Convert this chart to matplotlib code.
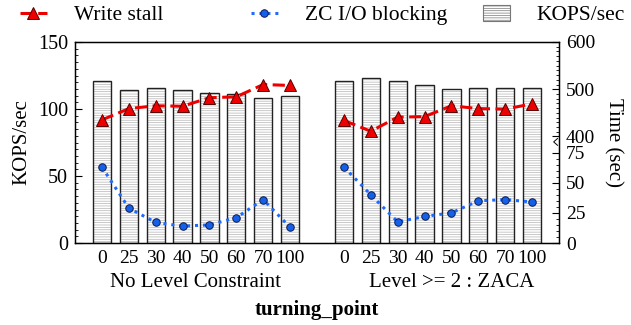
import matplotlib
matplotlib.use('Agg')
import matplotlib.pyplot as plt
import matplotlib.transforms as mtransforms
import numpy as np
from matplotlib.lines import Line2D
from matplotlib.patches import Patch
from matplotlib.ticker import FixedLocator

plt.rcParams['font.family'] = ['Liberation Serif', 'DejaVu Serif']
plt.rcParams['hatch.linewidth'] = 0.5

# data
turning_points = ['0', '25', '30', '40', '50', '60', '70', '100']
groups = ['No Level Constraint', 'Level >= 2 : ZACA']
kops_nolevel = [121, 114.5, 116, 114.5, 112, 111.5, 108, 109.5]
kops_zaca = [121, 123, 121, 118, 115, 116, 116, 115.5]
stall_nolevel = [435, 459, 465, 464, 482, 484, 510, 508]
stall_zaca = [434, 411, 441, 442, 465, 459, 458, 469]
block_nolevel = [63, 29, 17, 14, 15, 21, 36, 13]
block_zaca = [63, 40, 17.5, 22, 25, 35, 36, 34]

# broken right axis: 0-75 in the lower part, 400-600 in the upper part
brk_v = [0, 75, 400, 600]
brk_u = [0, 0.45, 0.53, 1.0]
def fwd(v):
    return np.interp(v, brk_v, brk_u)
def inv(u):
    return np.interp(u, brk_u, brk_v)

fig = plt.figure(figsize=(6.31, 3.25), dpi=100)
ax = fig.add_axes([75/631, 82/325, 484/631, 201/325])
ax2 = ax.twinx()

x1 = np.arange(len(turning_points))
x2 = x1 + len(turning_points) + 1
w = 0.68

for xs, ks in [(x1, kops_nolevel), (x2, kops_zaca)]:
    ax.bar(xs, ks, w, color='white', edgecolor='#b4b4b4', hatch='-------', linewidth=0)
    ax.bar(xs, ks, w, fill=False, edgecolor='#222222', linewidth=1.0)

red_kw = dict(color='#ee0000', linestyle=(0, (4, 1.8)), linewidth=2.2, marker='^',
              markersize=9, markerfacecolor='#ee0000', markeredgecolor='#550000', markeredgewidth=0.7)
blue_kw = dict(color='#1f6bff', linestyle=(0, (1, 1.6)), linewidth=2.2, marker='o',
               markersize=5.4, markerfacecolor='#1560e8', markeredgecolor='#0a1a50', markeredgewidth=0.7)
for xs, st, bl in [(x1, stall_nolevel, block_nolevel), (x2, stall_zaca, block_zaca)]:
    ax2.plot(xs, st, **red_kw)
    ax2.plot(xs, bl, **blue_kw)

ax2.set_yscale('function', functions=(fwd, inv))
ax2.set_ylim(0, 600)
ax2.yaxis.set_major_locator(FixedLocator([0, 25, 50, 75, 400, 500, 600]))
ax2.yaxis.set_minor_locator(FixedLocator(list(range(0, 76, 5)) + list(range(400, 601, 10))))
ax2.tick_params(axis='y', which='major', direction='in', length=5, labelsize=14, pad=5)
ax2.tick_params(axis='y', which='minor', direction='in', length=2.5)
ax2.set_ylabel('Time (sec)', fontsize=15, rotation=270, labelpad=20)
# 400 and 75 sit right next to each other: nudge them apart a little
for t in ax2.yaxis.get_major_ticks():
    if t.get_loc() == 400:
        t.label2.set_va('baseline')
        t.label2.set_transform(t.label2.get_transform() +
                               mtransforms.ScaledTranslation(0, -3.5/72, fig.dpi_scale_trans))
    elif t.get_loc() == 75:
        t.label2.set_va('top')
        t.label2.set_transform(t.label2.get_transform() +
                               mtransforms.ScaledTranslation(0, 5/72, fig.dpi_scale_trans))
# break mark on the right spine
ax2.plot([0.997, 0.989, 0.997], [0.52, 0.503, 0.486], transform=ax2.transAxes,
         color='black', linewidth=0.7, clip_on=False)

ax.set_xlim(-1, x2[-1] + 1)
ax.set_ylim(0, 150)
ax.set_yticks([0, 50, 100, 150])
ax.yaxis.set_minor_locator(FixedLocator(list(range(0, 151, 5))))
ax.tick_params(axis='y', which='major', direction='in', length=5, labelsize=14.5, pad=5)
ax.tick_params(axis='y', which='minor', direction='in', length=2.5)
ax.set_ylabel('KOPS/sec', fontsize=15, labelpad=5)

ax.set_xticks(np.concatenate([x1, x2]), turning_points * 2)
ax.xaxis.set_minor_locator(FixedLocator([4, 9, 14]))
ax.tick_params(axis='x', which='major', length=0, labelsize=14, pad=5)
ax.tick_params(axis='x', which='minor', direction='in', length=3, top=True, bottom=True)

for xs, g in zip([x1, x2], groups):
    ax.text(xs.mean() + (0.5 if xs[0] > 0 else 0), -0.195, g, transform=ax.get_xaxis_transform(),
            ha='center', va='center', fontsize=15)
fig.text(317/631, 1 - 310/325, 'turning_point', ha='center', va='center',
         fontsize=15, fontweight='bold')

for sp in ax.spines.values():
    sp.set_linewidth(1.0)

# legend: three equally spaced entries at the top
entries = [
    (Line2D([], [], **red_kw), 'Write stall', 20),
    (Line2D([], [], **blue_kw), 'ZC I/O blocking', 251),
    (Patch(facecolor='white', edgecolor='#777777', hatch='-------', linewidth=0.8), 'KOPS/sec', 483),
]
for h, lab, px in entries:
    fig.legend([h], [lab], loc='center left', bbox_to_anchor=(px/631, 1 - 15/325),
               frameon=False, fontsize=15.5, borderpad=0, borderaxespad=0,
               handlelength=1.25, handletextpad=1.25, handleheight=0.8)

fig.savefig('out.png', dpi=100)
